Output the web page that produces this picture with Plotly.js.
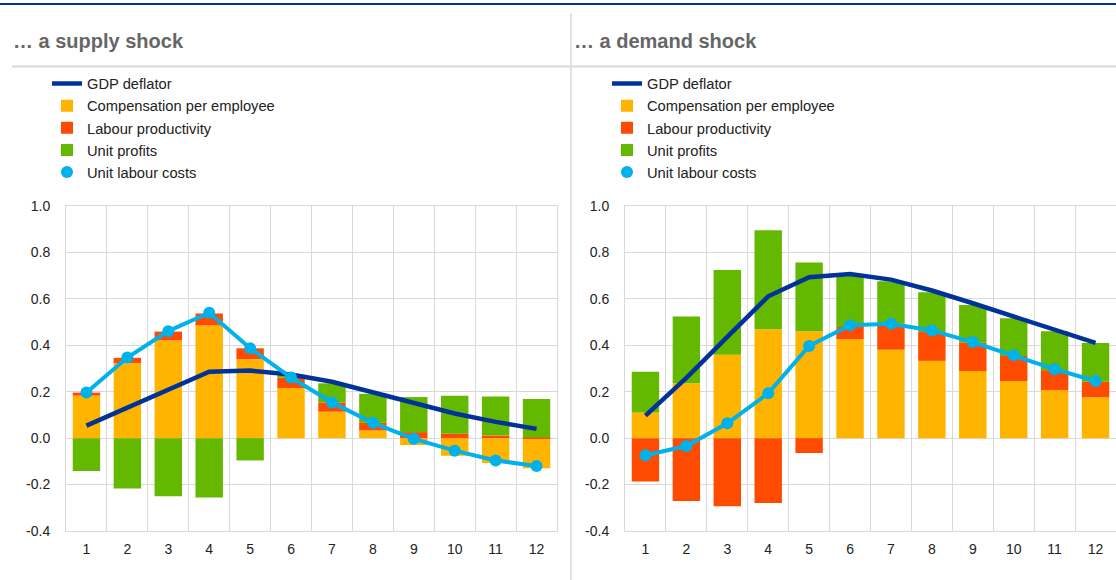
<!DOCTYPE html>
<html>
<head>
<meta charset="utf-8">
<script src="https://cdn.plot.ly/plotly-3.0.1.min.js"></script>
<style>
  html, body { margin: 0; padding: 0; background: #fff; }
  #chart { width: 1116px; height: 580px; }
</style>
</head>
<body>
<div id="chart"></div>
<script>
// ---- Data ----
const periods = ["1","2","3","4","5","6","7","8","9","10","11","12"];
const panelTitles = ["\u2026 a supply shock", "\u2026 a demand shock"];
const seriesNames = ["GDP deflator", "Compensation per employee", "Labour productivity", "Unit profits", "Unit labour costs"];

// Supply shock
const supplyGdp  = [0.054, 0.130, 0.210, 0.286, 0.291, 0.274, 0.243, 0.198, 0.150, 0.106, 0.070, 0.040];
const supplyComp = [0.183, 0.323, 0.421, 0.486, 0.340, 0.216, 0.114, 0.033, -0.030, -0.076, -0.107, -0.130];
const supplyProd = [0.013, 0.023, 0.038, 0.051, 0.047, 0.045, 0.040, 0.033, 0.026, 0.019, 0.011, 0.003];
const supplyProf = [-0.141, -0.217, -0.250, -0.256, -0.096, 0.012, 0.082, 0.125, 0.151, 0.164, 0.168, 0.166];
const supplyUlc  = [0.197, 0.347, 0.461, 0.540, 0.387, 0.261, 0.154, 0.066, -0.003, -0.054, -0.096, -0.120];

// Demand shock
const demandGdp  = [0.097, 0.260, 0.436, 0.611, 0.693, 0.707, 0.683, 0.636, 0.581, 0.524, 0.467, 0.410];
const demandComp = [0.111, 0.236, 0.359, 0.469, 0.460, 0.426, 0.381, 0.333, 0.289, 0.246, 0.207, 0.176];
const demandProd = [-0.187, -0.271, -0.293, -0.279, -0.064, 0.053, 0.112, 0.124, 0.122, 0.108, 0.086, 0.067];
const demandProf = [0.175, 0.288, 0.365, 0.427, 0.297, 0.221, 0.183, 0.172, 0.163, 0.163, 0.167, 0.167];
const demandUlc  = [-0.074, -0.034, 0.064, 0.193, 0.397, 0.486, 0.493, 0.464, 0.414, 0.357, 0.297, 0.246];

const yTickVals = [-0.4, -0.2, 0.0, 0.2, 0.4, 0.6, 0.8, 1.0];
const yTickText = ["-0.4", "-0.2", "0.0", "0.2", "0.4", "0.6", "0.8", "1.0"];

// ---- Style ----
const C = { gdp: "#003299", comp: "#FFB400", prod: "#FF4B00", prof: "#65B800", ulc: "#00B1EA" };
const W = 1116, H = 580;
const px = x => x / W;
const py = y => 1 - y / H;
const FONT = "Liberation Sans, Arial, sans-serif";

function panelTraces(gdp, comp, prod, prof, ulc, xa, ya, leg) {
  return [
    { type: "scatter", mode: "lines", x: periods, y: gdp, name: seriesNames[0], xaxis: xa, yaxis: ya, legend: leg,
      line: { color: C.gdp, width: 4.5 }, hoverinfo: "x+y+name" },
    { type: "bar", x: periods, y: comp, name: seriesNames[1], xaxis: xa, yaxis: ya, legend: leg,
      marker: { color: C.comp, line: { width: 0 } } },
    { type: "bar", x: periods, y: prod, name: seriesNames[2], xaxis: xa, yaxis: ya, legend: leg,
      marker: { color: C.prod, line: { width: 0 } } },
    { type: "bar", x: periods, y: prof, name: seriesNames[3], xaxis: xa, yaxis: ya, legend: leg,
      marker: { color: C.prof, line: { width: 0 } } },
    { type: "scatter", mode: "lines", x: periods, y: ulc, name: seriesNames[4], xaxis: xa, yaxis: ya, legend: leg,
      showlegend: false, line: { color: C.ulc, width: 4 } },
    { type: "scatter", mode: "markers", x: periods, y: ulc, name: seriesNames[4], xaxis: xa, yaxis: ya, legend: leg,
      marker: { color: C.ulc, size: 12 } }
  ];
}

const data = [
  ...panelTraces(supplyGdp, supplyComp, supplyProd, supplyProf, supplyUlc, "x", "y", "legend"),
  ...panelTraces(demandGdp, demandComp, demandProd, demandProf, demandUlc, "x2", "y2", "legend2")
];

const gridColor = "#d9d9d9";
function xAxis(domain, anchor) {
  return {
    domain: domain, anchor: anchor, type: "category", tickson: "boundaries",
    range: [-0.5, periods.length - 0.5], autorange: false,
    showgrid: true, gridcolor: gridColor, gridwidth: 1,
    showline: true, linecolor: gridColor, linewidth: 1, mirror: true,
    ticks: "", ticklabelstandoff: 5,
    tickfont: { family: FONT, size: 14, color: "#222" }, fixedrange: true
  };
}
function yAxis(anchor) {
  return {
    domain: [py(531), py(206)], anchor: anchor, range: [-0.4, 1.0], autorange: false,
    tickvals: yTickVals, ticktext: yTickText,
    showgrid: true, gridcolor: gridColor, gridwidth: 1, zeroline: false,
    showline: true, linecolor: gridColor, linewidth: 1, mirror: true,
    ticks: "", ticklabelstandoff: 12,
    tickfont: { family: FONT, size: 14, color: "#222" }, fixedrange: true
  };
}
function legendAt(xPix) {
  return {
    x: px(xPix), y: py(67.5), xanchor: "left", yanchor: "top", orientation: "v",
    traceorder: "normal", bgcolor: "rgba(0,0,0,0)", borderwidth: 0,
    font: { family: FONT, size: 14.7, color: "#222" }, itemclick: false, itemdoubleclick: false
  };
}

const layout = {
  width: W, height: H,
  margin: { l: 0, r: 0, t: 0, b: 0 },
  paper_bgcolor: "#fff", plot_bgcolor: "#fff",
  barmode: "relative", bargap: 0.33,
  showlegend: true,
  xaxis: xAxis([px(66), px(557)], "y"),
  yaxis: yAxis("x"),
  xaxis2: xAxis([px(625), px(1116)], "y2"),
  yaxis2: yAxis("x2"),
  legend: legendAt(47),
  legend2: legendAt(607),
  shapes: [
    { type: "line", xref: "paper", yref: "paper", x0: 0, x1: 1, y0: py(4), y1: py(4), line: { color: "#003299", width: 2 } },
    { type: "line", xref: "paper", yref: "paper", x0: px(12), x1: 1, y0: py(66.5), y1: py(66.5), line: { color: "#d9d9d9", width: 2 } },
    { type: "line", xref: "paper", yref: "paper", x0: px(571), x1: px(571), y0: py(13), y1: 0, line: { color: "#d9d9d9", width: 1.5 } }
  ],
  annotations: [
    { xref: "paper", yref: "paper", x: px(11), y: py(41), xanchor: "left", yanchor: "middle", showarrow: false,
      text: "<b>" + panelTitles[0] + "</b>", font: { family: FONT, size: 20, color: "#666" } },
    { xref: "paper", yref: "paper", x: px(572), y: py(41), xanchor: "left", yanchor: "middle", showarrow: false,
      text: "<b>" + panelTitles[1] + "</b>", font: { family: FONT, size: 20, color: "#666" } }
  ]
};

Plotly.newPlot("chart", data, layout, { displayModeBar: false, staticPlot: false, responsive: false });
</script>
</body>
</html>
